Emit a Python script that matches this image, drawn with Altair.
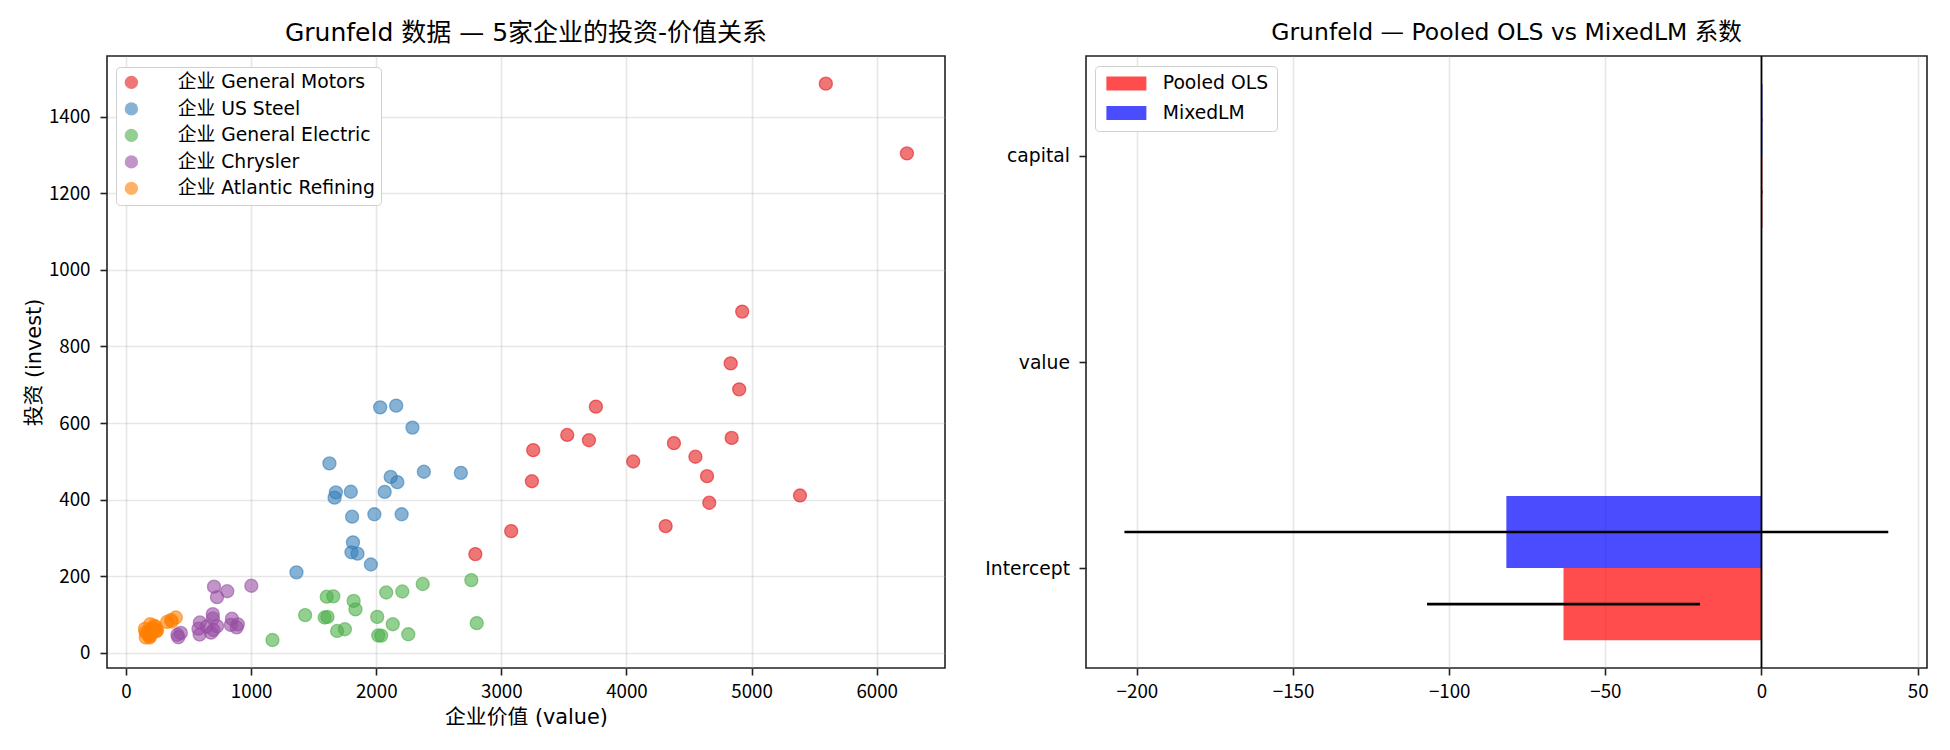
import altair as alt
import pandas as pd

FONT = "DejaVu Sans, Noto Sans CJK SC"
NUM_FONT = "Noto Sans CJK SC"

# ---------------- left panel data (Grunfeld, 5 firms) ----------------
firms = ["General Motors", "US Steel", "General Electric", "Chrysler", "Atlantic Refining"]

gm_value = [3078.5, 4661.7, 5387.1, 2792.2, 4313.2, 4643.9, 4551.2, 3244.1, 4053.7, 4379.3,
            4840.9, 4900.9, 3526.5, 3254.7, 3700.2, 3755.6, 4833.0, 4924.9, 6241.7, 5593.6]
gm_invest = [317.6, 391.8, 410.6, 257.7, 330.8, 461.2, 512.0, 448.0, 499.6, 547.5,
             561.2, 688.1, 568.9, 529.2, 555.1, 642.9, 755.9, 891.2, 1304.4, 1486.7]

us_value = [1362.4, 1807.1, 2676.3, 1801.9, 1957.3, 2202.9, 2380.5, 2168.6, 1985.1, 1813.9,
            1850.2, 2067.7, 1796.7, 1625.8, 1667.0, 1677.4, 2289.5, 2159.4, 2031.3, 2115.5]
us_invest = [209.9, 355.3, 469.9, 262.3, 230.4, 361.6, 472.8, 445.6, 361.6, 288.2,
             258.7, 420.3, 420.5, 494.5, 405.1, 418.8, 588.2, 645.5, 641.0, 459.3]

ge_value = [1170.6, 2015.8, 2803.3, 2039.7, 2256.2, 2132.2, 1834.1, 1588.0, 1749.4, 1687.2,
            2007.7, 2208.3, 1656.7, 1604.4, 1431.8, 1610.5, 1819.4, 2079.7, 2371.6, 2759.9]
ge_invest = [33.1, 45.0, 77.2, 44.6, 48.1, 74.4, 113.0, 91.9, 61.3, 56.8,
             93.6, 159.9, 147.2, 146.3, 98.3, 93.5, 135.2, 157.3, 179.5, 189.6]

ch_value = [417.5, 837.8, 883.9, 437.9, 679.7, 727.8, 643.6, 410.9, 588.4, 698.4,
            846.4, 893.8, 579.0, 694.6, 590.3, 693.5, 809.0, 727.0, 1001.5, 703.2]
ch_invest = [40.29, 72.76, 66.26, 51.6, 52.41, 69.41, 68.35, 46.8, 47.4, 59.57,
             88.78, 74.12, 62.68, 89.36, 78.98, 100.66, 160.62, 145.0, 174.93, 172.49]

ar_value = [157.7, 167.9, 192.9, 156.7, 191.4, 185.5, 199.6, 189.5, 151.2, 187.7,
            214.7, 232.9, 249.0, 224.5, 237.3, 240.1, 327.3, 359.4, 398.4, 365.7]
ar_invest = [39.68, 50.73, 74.24, 53.51, 42.65, 46.48, 61.4, 39.67, 62.24, 52.32,
             63.21, 59.37, 58.02, 70.34, 67.42, 55.74, 80.3, 85.4, 91.9, 81.43]

x_ticks_left = [0, 1000, 2000, 3000, 4000, 5000, 6000]
y_ticks_left = [0, 200, 400, 600, 800, 1000, 1200, 1400]

# ---------------- right panel data (coefficients) ----------------
terms = ["Intercept", "value", "capital"]
ols_coef = [-63.4, 0.11, 0.30]
ols_err = [43.7, 0.02, 0.07]
mixed_coef = [-81.7, 0.11, 0.31]
mixed_err = [122.3, 0.03, 0.05]
models = ["Pooled OLS", "MixedLM"]
x_ticks_right = [-200, -150, -100, -50, 0, 50]

# ---------------- build tables ----------------
firm_labels = ["企业 " + f for f in firms]
series = [(gm_value, gm_invest), (us_value, us_invest), (ge_value, ge_invest),
          (ch_value, ch_invest), (ar_value, ar_invest)]
rows = []
for lab, (vals, invs) in zip(firm_labels, series):
    for v, i in zip(vals, invs):
        rows.append({"firm": lab, "value": v, "invest": i})
df_left = pd.DataFrame(rows)

df_right = pd.DataFrame({
    "term": terms * 2,
    "idx": list(range(len(terms))) * 2,
    "model": [models[0]] * len(terms) + [models[1]] * len(terms),
    "coef": ols_coef + mixed_coef,
    "err": ols_err + mixed_err,
})

set1 = ["#e41a1c", "#377eb8", "#4daf4a", "#984ea3", "#ff7f00"]
bar_colors = ["#ff0000", "#0000ff"]

W_L, W_R, H = 838, 841, 612

# ---------------- left chart ----------------
left = alt.Chart(df_left).mark_point(
    filled=True, shape="circle", size=170, fillOpacity=0.6, strokeOpacity=0.6, strokeWidth=1.3
).encode(
    x=alt.X("value:Q", scale=alt.Scale(domain=[-152, 6546], nice=False, zero=False),
            axis=alt.Axis(title="企业价值 (value)", values=x_ticks_left, format="d", grid=True,
                          labelFont=NUM_FONT, labelPadding=7, titlePadding=7)),
    y=alt.Y("invest:Q", scale=alt.Scale(domain=[-40, 1559], nice=False, zero=False),
            axis=alt.Axis(title="投资 (invest)", values=y_ticks_left, format="d", grid=True,
                          labelFont=NUM_FONT, labelPadding=10, titlePadding=4)),
    fill=alt.Fill("firm:N", scale=alt.Scale(domain=firm_labels, range=set1),
                  legend=alt.Legend(title=None, orient="none", legendX=9, legendY=11,
                                    fillColor="white", strokeColor="#d0d0d0", cornerRadius=4,
                                    padding=6, labelFontSize=18.75, labelFont=FONT,
                                    symbolType="circle", symbolSize=180, symbolOpacity=0.6,
                                    symbolStrokeWidth=0, rowPadding=6.5, labelOffset=37,
                                    symbolOffset=0, labelLimit=400)),
    stroke=alt.Stroke("firm:N", scale=alt.Scale(domain=firm_labels, range=set1), legend=None),
).properties(
    width=W_L, height=H,
    title=alt.Title("Grunfeld 数据 — 5家企业的投资-价值关系", fontSize=25, font=FONT,
                    fontWeight="normal", offset=10, anchor="middle", color="black"),
)

# ---------------- right chart ----------------
label_expr = "[" + ",".join("'" + t + "'" for t in terms) + "][datum.value]"

xr = alt.X("x0:Q", scale=alt.Scale(domain=[-216.3, 53.0], nice=False, zero=False),
           axis=alt.Axis(title=None, values=x_ticks_right, grid=True, labelFont=NUM_FONT,
                         labelPadding=7))
yr = alt.Y("y_lo:Q", scale=alt.Scale(domain=[-0.485, 2.485], nice=False, zero=False),
           axis=alt.Axis(title=None, values=list(range(len(terms))), labelExpr=label_expr,
                         grid=False, labelPadding=9.5, labelFont=FONT))

base_r = alt.Chart(df_right).transform_calculate(
    x0="0",
    y_lo="datum.model == 'Pooled OLS' ? datum.idx - 0.35 : datum.idx",
    y_hi="datum.model == 'Pooled OLS' ? datum.idx : datum.idx + 0.35",
    y_mid="datum.model == 'Pooled OLS' ? datum.idx - 0.175 : datum.idx + 0.175",
    lo="datum.coef - datum.err",
    hi="datum.coef + datum.err",
)

bars = base_r.mark_rect(opacity=0.7).encode(
    x=xr, x2="coef:Q", y=yr, y2="y_hi:Q",
    fill=alt.Fill("model:N", scale=alt.Scale(domain=models, range=bar_colors),
                  legend=alt.Legend(title=None, orient="none", legendX=9, legendY=10,
                                    fillColor="white", strokeColor="#d0d0d0", cornerRadius=4,
                                    padding=8, labelFontSize=18.75, labelFont=FONT,
                                    symbolType="M-2.5,-0.875H2.5V0.875H-2.5Z", symbolSize=256,
                                    symbolOpacity=0.7, symbolStrokeWidth=0, rowPadding=9.5,
                                    symbolOffset=14, labelOffset=27, labelLimit=400)),
)

zero_line = alt.Chart(pd.DataFrame({"z": [0]})).mark_rule(color="black", strokeWidth=1.8).encode(
    x=alt.X("z:Q")
)

errbars = base_r.mark_rule(color="black", strokeWidth=2.7).encode(
    x=alt.X("lo:Q"), x2="hi:Q", y=alt.Y("y_mid:Q")
)

right = alt.layer(bars, zero_line, errbars).properties(
    width=W_R, height=H,
    title=alt.Title("Grunfeld — Pooled OLS vs MixedLM 系数", fontSize=23.5, font=FONT,
                    fontWeight="normal", offset=11, anchor="middle", color="black"),
)

chart = alt.hconcat(left, right, spacing=38).resolve_scale(
    x="independent", y="independent", fill="independent", stroke="independent"
).configure(
    font=FONT,
    padding={"left": 14, "top": 11, "right": 5, "bottom": 2},
).configure_view(
    stroke="#222222", strokeWidth=1.6
).configure_axis(
    labelFont=FONT, titleFont=FONT, labelFontSize=18.75, titleFontSize=20.8,
    titleFontWeight="normal", labelColor="black", titleColor="black",
    domain=False, tickColor="#222222", tickSize=7, tickWidth=1.6,
    gridColor="#b0b0b0", gridOpacity=0.3, gridWidth=1.6,
    labelFlush=False, labelOverlap=False,
)

chart.save("out.html", embed_options={"renderer": "svg", "actions": False})
